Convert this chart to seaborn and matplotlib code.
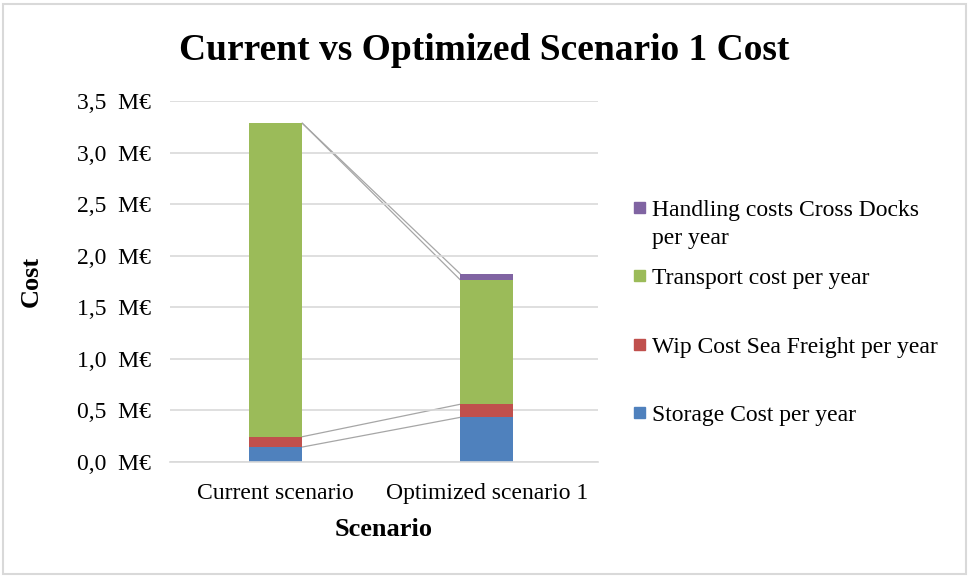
import numpy as np
import pandas as pd
import matplotlib
matplotlib.use('Agg')
import matplotlib.pyplot as plt
from matplotlib.ticker import FuncFormatter
from matplotlib.patches import Rectangle
import seaborn as sns

# Data (M€)
scenarios = ['Current scenario', 'Optimized scenario 1']
storage = [0.145, 0.433]
wip = [0.100, 0.127]
transport = [3.040, 1.205]
handling = [0.000, 0.058]

series_names = ['Storage Cost per year', 'Wip Cost Sea Freight per year',
                'Transport cost per year', 'Handling costs Cross Docks\nper year']
colors = ['#4F81BD', '#C0504D', '#9BBB59', '#8064A2']

df = pd.DataFrame({'Scenario': scenarios, 'storage': storage, 'wip': wip,
                   'transport': transport, 'handling': handling})
cols = ['storage', 'wip', 'transport', 'handling']
cum = df[cols].cumsum(axis=1)

sns.set_style('white', {'text.color': 'black', 'axes.labelcolor': 'black',
                        'xtick.color': 'black', 'ytick.color': 'black'})
plt.rcParams['font.family'] = ['Liberation Serif', 'DejaVu Serif']

fig = plt.figure(figsize=(9.68, 5.77), dpi=100)
ax = fig.add_axes([0.1756, 0.1993, 0.4418, 0.6257])

bar_w = 0.25
# stacked bars: draw cumulative totals from the top layer down
for col, color in reversed(list(zip(cols, colors))):
    sns.barplot(x='Scenario', y=cum[col], data=df.assign(**{col: cum[col]}),
                color=color, width=bar_w, ax=ax, saturation=1,
                edgecolor='none', linewidth=0)

# series lines between the bars
x0, x1 = 0 + bar_w / 2, 1 - bar_w / 2
for col in cols:
    ax.plot([x0, x1], cum[col].values, color='#a6a6a6', lw=0.9, zorder=0.5)

ax.set_ylim(0, 3.5)
ax.set_xlim(-0.502, 1.526)
ax.set_yticks(np.arange(0, 3.51, 0.5))
ax.yaxis.set_major_formatter(FuncFormatter(lambda v, p: f"{v:.1f}".replace('.', ',') + '  M€'))
ax.grid(axis='y', color='#d9d9d9', lw=1.2)
ax.set_axisbelow(True)
for s in ['top', 'right', 'left']:
    ax.spines[s].set_visible(False)
ax.spines['bottom'].set_color('#d9d9d9')
ax.spines['bottom'].set_linewidth(1.2)
ax.tick_params(axis='both', length=0, labelsize=17, pad=14, labelcolor='black')
ax.tick_params(axis='x', pad=15)

ax.set_xlabel('Scenario', fontsize=19, fontweight='bold', labelpad=10, color='black')
ax.set_ylabel('Cost', fontsize=19, fontweight='bold', labelpad=24, color='black')
fig.text(0.5, 0.912, 'Current vs Optimized Scenario 1 Cost', ha='center', va='center',
         fontsize=27, fontweight='bold', color='black')

# legend, Excel-style evenly spaced entries
legend_y = [208, 276, 345, 413]
for name, color, y in zip(reversed(series_names), reversed(colors), legend_y):
    fig.patches.append(Rectangle((634 / 968, 1 - (y + 5) / 577), 11 / 968, 11 / 577,
                                 transform=fig.transFigure, color=color))
    fig.text(652 / 968, 1 - (y - 8) / 577, name, ha='left', va='top', fontsize=17,
             linespacing=1.45, color='black')

# chart border
fig.patches.append(Rectangle((3 / 968, 3 / 577), 963 / 968, 570 / 577, transform=fig.transFigure,
                             fill=False, edgecolor='#d9d9d9', lw=1.5))

fig.savefig('out.png', dpi=100)
